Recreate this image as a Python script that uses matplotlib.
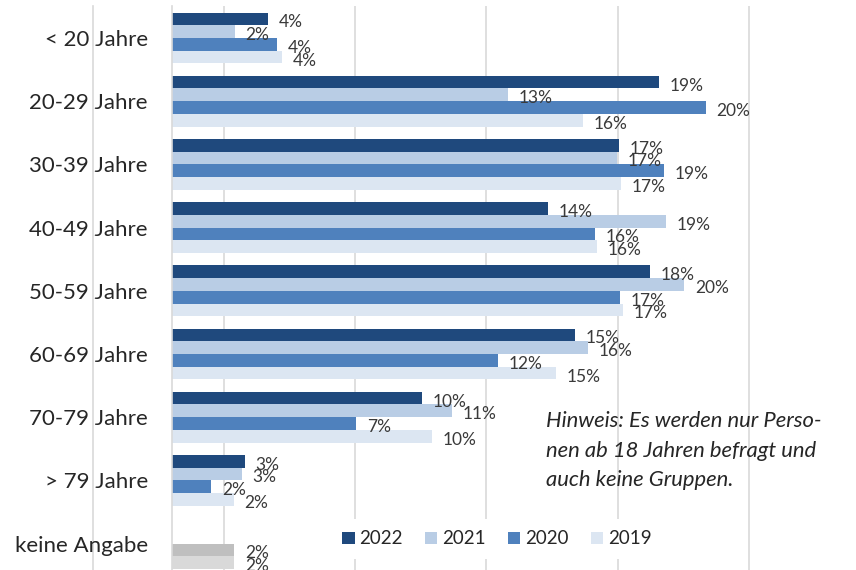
import numpy as np
import matplotlib
matplotlib.use("Agg")
import matplotlib.pyplot as plt
from matplotlib.patches import Patch

# Altersgruppen und Anteile (%) je Jahr
groups = ["< 20 Jahre", "20-29 Jahre", "30-39 Jahre", "40-49 Jahre", "50-59 Jahre",
          "60-69 Jahre", "70-79 Jahre", "> 79 Jahre", "keine Angabe"]
years = ["2022", "2021", "2020", "2019"]
v2022 = [3.69, 18.58, 17.07, 14.36, 18.25, 15.38, 9.55, 2.80, None]
v2021 = [2.43, 12.84, 16.98, 18.85, 19.55, 15.88, 10.69, 2.69, None]
v2020 = [4.03, 20.38, 18.77, 16.14, 17.11, 12.44, 7.05, 1.52, 2.40]
v2019 = [4.22, 15.69, 17.14, 16.21, 17.21, 14.65, 9.92, 2.39, 2.40]
series = [v2022, v2021, v2020, v2019]

colors = ["#1f497d", "#b9cde5", "#4f81bd", "#dce6f2"]
gray_colors = {2: "#bfbfbf", 3: "#d9d9d9"}   # "keine Angabe" in Grau
note = "Hinweis: Es werden nur Perso-\nnen ab 18 Jahren befragt und\nauch keine Gruppen."

plt.rcParams["font.family"] = ["Lato", "DejaVu Sans"]

W, H = 856, 570
fig = plt.figure(figsize=(W / 100, H / 100), dpi=100)
px_per_pct = 26.24
x0 = 171.5
ax = fig.add_axes([x0 / W, 0, 1 - x0 / W, 1 - 6 / H])
ax.set_xlim(0, (W - x0) / px_per_pct)
ax.set_ylim((570 - 38) / 63.2, (6 - 38) / 63.2)

bar_h = 0.2017
offsets = (np.arange(4) - 1.5) * bar_h
y = np.arange(len(groups))

for k, vals in enumerate(series):
    for i, v in enumerate(vals):
        if v is None:
            continue
        c = colors[k]
        if groups[i] == "keine Angabe":
            c = gray_colors[k]
        ax.barh(y[i] + offsets[k], v, height=bar_h, color=c, zorder=2)
        ax.annotate(f"{v:.0f}%", (v, y[i] + offsets[k]), xytext=(7.5, -2.5),
                    textcoords="offset points", va="center", ha="left",
                    fontsize=12.5, color="#3a3a3a", zorder=3)

# Gitterlinien (auch links der Achse)
ax.set_xticks([2, 7, 12, 17, 22])
ax.xaxis.grid(True, color="#d9d9d9", lw=1.2, zorder=0)
ax.axvline(-3, color="#d9d9d9", lw=1.2, clip_on=False, zorder=0)
ax.tick_params(axis="x", length=0, labelbottom=False)

ax.set_yticks(y)
ax.set_yticklabels(groups, fontsize=16, color="#262626")
ax.tick_params(axis="y", length=0, pad=17)
for s in ["top", "right", "bottom"]:
    ax.spines[s].set_visible(False)
ax.spines["left"].set_color("#d9d9d9")
ax.spines["left"].set_linewidth(1.2)

handles = [Patch(facecolor=c) for c in colors]
leg = fig.legend(handles, years, loc="center", ncol=4, frameon=True,
                 bbox_to_anchor=(497 / W, 1 - 539 / H), bbox_transform=fig.transFigure,
                 fontsize=13.5, handlelength=0.65, handleheight=0.65,
                 handletextpad=0.25, columnspacing=1.2, borderpad=0.6)
leg.get_frame().set_facecolor("white")
leg.get_frame().set_edgecolor("none")
leg.get_frame().set_alpha(1)
for t in leg.get_texts():
    t.set_color("#262626")

fig.text(546 / W, 1 - 411 / H, note, ha="left", va="top", fontsize=15.8,
         style="italic", color="#262626", linespacing=1.6)

fig.savefig("out.png", dpi=100)
